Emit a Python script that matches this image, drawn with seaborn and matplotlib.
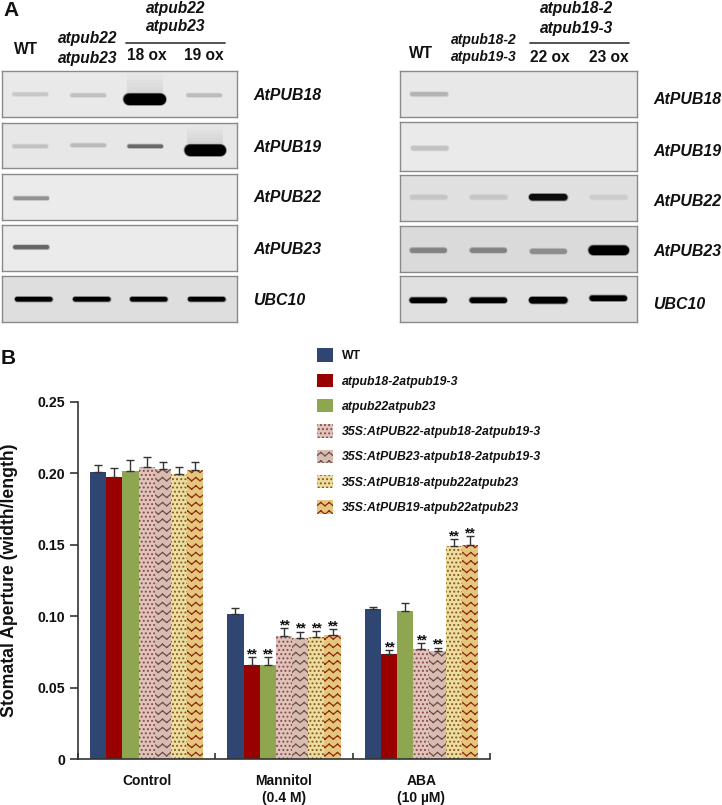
import numpy as np
import pandas as pd
import matplotlib
matplotlib.use("Agg")
import matplotlib.pyplot as plt
import matplotlib.hatch as mhatch
from matplotlib.patches import Patch
from matplotlib.path import Path
import seaborn as sns

# ---------- data ----------
conditions = ["Control", "Mannitol\n(0.4 M)", "ABA\n(10 \u00b5M)"]
genotypes = ["WT", "atpub18-2atpub19-3", "atpub22atpub23",
             "35S:AtPUB22-atpub18-2atpub19-3", "35S:AtPUB23-atpub18-2atpub19-3",
             "35S:AtPUB18-atpub22atpub23", "35S:AtPUB19-atpub22atpub23"]
control_means = [0.201, 0.197, 0.2015, 0.2045, 0.203, 0.1995, 0.202]
mannitol_means = [0.1015, 0.066, 0.066, 0.086, 0.085, 0.0855, 0.087]
aba_means = [0.105, 0.0733, 0.1036, 0.0773, 0.0756, 0.1487, 0.150]
control_err = [0.0045, 0.0065, 0.008, 0.0065, 0.005, 0.0045, 0.006]
mannitol_err = [0.004, 0.0054, 0.0054, 0.0057, 0.004, 0.0039, 0.004]
aba_err = [0.0014, 0.0027, 0.0054, 0.0039, 0.0024, 0.0053, 0.0057]
control_sig = [0, 0, 0, 0, 0, 0, 0]
mannitol_sig = [0, 1, 1, 1, 1, 1, 1]
aba_sig = [0, 1, 0, 1, 1, 1, 1]
y_ticks = [0, 0.05, 0.10, 0.15, 0.20, 0.25]
y_labels = ["0", "0.05", "0.10", "0.15", "0.20", "0.25"]

gene_labels = ["AtPUB18", "AtPUB19", "AtPUB22", "AtPUB23", "UBC10"]
# band darkness per lane (0 = none, 1 = saturated)
left_bands = [[0.13, 0.16, 1.0, 0.17],
              [0.14, 0.17, 0.5, 1.0],
              [0.34, 0, 0, 0],
              [0.52, 0, 0, 0],
              [1.0, 1.0, 1.0, 1.0]]
right_bands = [[0.2, 0, 0, 0],
               [0.15, 0, 0, 0],
               [0.1, 0.1, 0.92, 0.08],
               [0.36, 0.36, 0.32, 1.0],
               [1.0, 1.0, 1.0, 1.0]]
left_background = ["#e9e9e9", "#e7e7e7", "#ebebeb", "#ebebeb", "#dedede"]
right_background = ["#e8e8e8", "#eaeaea", "#e0e0e0", "#dadada", "#e0e0e0"]

# ---------- styling ----------
sns.set_theme(style="ticks")
plt.rcParams["font.family"] = ["Liberation Sans", "DejaVu Sans"]
plt.rcParams["hatch.linewidth"] = 0.9
W, H = 722, 805


class WavyHatch(mhatch.HatchPatternBase):
    """Zig-zag horizontal hatch, selected by '~'."""
    def __init__(self, hatch, density):
        self.num_lines = hatch.count("~") * density
        self.segs = 2 * self.num_lines
        self.num_vertices = self.num_lines * self.segs * 2

    def set_vertices_and_codes(self, vertices, codes):
        n = self.num_lines
        k = 0
        for row in range(n):
            y0 = (row + 0.5) / n
            for i in range(self.segs):
                for j in (i, i + 1):
                    vertices[k, 0] = j / (2 * n)
                    vertices[k, 1] = y0 + (0.2 / n) * (1 if j % 2 else -1)
                    codes[k] = Path.MOVETO if j == i else Path.LINETO
                    k += 1


mhatch._hatch_types.append(WavyHatch)
mhatch._validate_hatch_pattern = lambda hatch: None

fill_colors = ["#2f4672", "#990000", "#8ea64f", "#e0c4bb", "#d9bcb1", "#ecdda0", "#e4c67c"]
hatch_colors = ["#2f4672", "#990000", "#8ea64f", "#8a4a4a", "#6e5048", "#8a5a20", "#8f2a10"]
hatches = [None, None, None, "....", "~~", "....", "~~"]


def add_axes_px(x0, y0, x1, y1, **kw):
    return fig.add_axes([x0 / W, 1 - y1 / H, (x1 - x0) / W, (y1 - y0) / H], **kw)


def text_px(x, y, s, **kw):
    kw.setdefault("ha", "center")
    kw.setdefault("va", "center")
    kw.setdefault("fontweight", "bold")
    kw.setdefault("color", "#111111")
    fig.text(x / W, 1 - y / H, s, **kw)


fig = plt.figure(figsize=(W / 100, H / 100), dpi=100, facecolor="white")


# ---------- panel A ----------
def band(ax, x, y, width, thick, dark, bg):
    if dark <= 0:
        return
    bg_level = int(bg[1:3], 16) / 255
    level = bg_level * (1 - dark) ** 1.15
    col = str(max(level, 0.0))
    halfw = width / 2 - thick / 2
    for grow, alpha in [(2.6, 0.18), (1.6, 0.35), (0.7, 0.6), (0.0, 1.0)]:
        ax.plot([x - halfw, x + halfw], [y, y], color=col, alpha=alpha,
                lw=(thick + grow) * 0.72, solid_capstyle="round", zorder=3)


def gel(x0, y0, x1, y1, bands, bg, xs, ys, widths, thicks, smear=None):
    ax = add_axes_px(x0, y0, x1, y1)
    ax.set_facecolor(bg)
    ax.set_xlim(x0, x1)
    ax.set_ylim(y1, y0)
    ax.set_xticks([])
    ax.set_yticks([])
    for s in ax.spines.values():
        s.set_color("#8a8a8a")
        s.set_linewidth(1.0)
    if smear is not None:
        for top in np.linspace(smear[1], smear[2] - 2, 6):
            ax.fill_between([smear[0] - 18, smear[0] + 18], top, smear[2],
                            color="#b0b0b0", alpha=0.05, lw=0, zorder=1)
    for x, y, w, t, d in zip(xs, ys, widths, thicks, bands):
        band(ax, x, y, w, t, d, bg)
    return ax


lx = [30, 88, 145, 204]
gel(2, 71, 237, 117, left_bands[0], left_background[0], lx, [94, 95, 99, 95],
    [35, 35, 42, 35], [3, 3, 11, 3], smear=(145, 73, 92))
gel(2, 123, 237, 168, left_bands[1], left_background[1], lx[:3] + [205], [146.5, 145.5, 146, 150],
    [35, 35, 35, 41], [3, 3, 3, 11], smear=(205, 127, 143))
gel(2, 174, 237, 220, left_bands[2], left_background[2], [31, 88, 145, 204], [197.5] * 4,
    [35] * 4, [3] * 4)
gel(2, 225, 237, 271, left_bands[3], left_background[3], [31, 88, 145, 204], [247.5] * 4,
    [36] * 4, [3.5] * 4)
gel(2, 276, 237, 322, left_bands[4], left_background[4], [34, 92, 149, 207], [299.5] * 4,
    [37] * 4, [4] * 4)
rx = [429, 489, 549, 609]
gel(400, 71, 637, 117, right_bands[0], right_background[0], rx, [94] * 4, [37] * 4, [3.5] * 4)
gel(400, 122, 637, 171, right_bands[1], right_background[1], rx, [148] * 4, [37] * 4, [4] * 4)
gel(400, 175, 637, 221, right_bands[2], right_background[2], [428, 488, 548, 608], [197] * 4,
    [37, 37, 38, 37], [4, 4, 6, 4])
gel(400, 226, 637, 272, right_bands[3], right_background[3], [428, 488, 548, 608], [250, 250, 251, 250],
    [37, 37, 37, 40], [4.5, 4.5, 4.5, 9])
gel(400, 276, 637, 322, right_bands[4], right_background[4], [428, 488, 548, 608], [300, 300, 300, 298],
    [37, 37, 38, 37], [5, 5, 6, 5])

for gene, y in zip(gene_labels, [96, 147, 198, 249, 300]):
    text_px(253, y, gene, ha="left", fontstyle="italic", fontsize=11.4)
for gene, y in zip(gene_labels, [100, 151, 201, 252, 304]):
    text_px(653, y, gene, ha="left", fontstyle="italic", fontsize=11.4)

text_px(3, 10, "A", ha="left", fontsize=15)
text_px(1, 358, "B", ha="left", fontsize=15)

text_px(26, 50, "WT", fontsize=11.2)
text_px(88, 39, "atpub22", fontstyle="italic", fontsize=11.2)
text_px(88, 58, "atpub23", fontstyle="italic", fontsize=11.2)
text_px(176, 8, "atpub22", fontstyle="italic", fontsize=11.2)
text_px(176, 27, "atpub23", fontstyle="italic", fontsize=11.2)
text_px(147, 56, "18 ox", fontsize=11.2)
text_px(204, 56, "19 ox", fontsize=11.2)

text_px(421, 53, "WT", fontsize=11.2)
text_px(484, 40, "atpub18-2", fontstyle="italic", fontsize=10)
text_px(484, 57, "atpub19-3", fontstyle="italic", fontsize=10)
text_px(577, 9, "atpub18-2", fontstyle="italic", fontsize=11.2)
text_px(577, 28, "atpub19-3", fontstyle="italic", fontsize=11.2)
text_px(550, 57, "22 ox", fontsize=11.2)
text_px(609, 57, "23 ox", fontsize=11.2)

for xa, xb in [(126, 225), (530, 629)]:
    fig.add_artist(plt.Line2D([xa / W, xb / W], [1 - 43 / H] * 2, color="#444444", lw=1.3))

# ---------- panel B ----------
df = pd.DataFrame({
    "condition": np.repeat(conditions, len(genotypes)),
    "genotype": genotypes * len(conditions),
    "value": control_means + mannitol_means + aba_means,
})
all_err = [control_err, mannitol_err, aba_err]
all_sig = [control_sig, mannitol_sig, aba_sig]

ax = add_axes_px(78, 401.7, 490, 759)
sns.barplot(data=df, x="condition", y="value", hue="genotype", order=conditions,
            hue_order=genotypes, palette=fill_colors, width=0.825, gap=0,
            errorbar=None, saturation=1, legend=False, ax=ax, linewidth=0)
ax.set_xlim(-0.5, 2.5)
ax.set_ylim(0, 0.25)

for g, container in enumerate(list(ax.containers)):
    for c, bar in enumerate(container):
        bar.set_linewidth(0)
        bar.set_edgecolor(hatch_colors[g])
        if hatches[g]:
            bar.set_hatch(hatches[g])
        xc = bar.get_x() + bar.get_width() / 2
        top = bar.get_height()
        err = all_err[c][g]
        ax.errorbar(xc, top, yerr=[[0], [err]], color="#333333", capsize=3.2,
                    elinewidth=1.0, capthick=1.0, zorder=4)
        if all_sig[c][g]:
            ax.annotate("**", (xc, top + err), xytext=(0, -3), textcoords="offset points",
                        ha="center", va="bottom", fontsize=10, fontweight="bold", color="#111111")

sns.despine(ax=ax)
for side in ("left", "bottom"):
    ax.spines[side].set_color("#333333")
    ax.spines[side].set_linewidth(1.2)
ax.set_yticks(y_ticks)
ax.set_yticklabels(y_labels, fontsize=10.2, fontweight="bold", color="#111111")
ax.tick_params(axis="y", direction="out", length=6, width=1.2, color="#333333", pad=3)
ax.set_xticks(range(len(conditions)))
ax.set_xticklabels(conditions, fontsize=10, fontweight="bold", color="#111111", linespacing=1.25)
ax.tick_params(axis="x", which="major", length=0, pad=11)
ax.set_xticks([-0.5, 0.5, 1.5, 2.5], minor=True)
ax.tick_params(axis="x", which="minor", direction="in", length=4.5, width=1.2, color="#333333")
ax.set_xlabel("")
ax.set_ylabel("")
text_px(10, 580, "Stomatal Aperture (width/length)", rotation=90, fontsize=12.7)

handles = [Patch(facecolor=f, edgecolor=h, hatch=p, linewidth=0)
           for f, h, p in zip(fill_colors, hatch_colors, hatches)]
fs = 8.8
leg = fig.legend(handles, genotypes, loc="upper left", bbox_to_anchor=(317 / W, 1 - 348.5 / H),
                 frameon=False, prop={"size": fs, "weight": "bold", "style": "italic"},
                 handlelength=1.31, handleheight=1.31, labelspacing=0.94,
                 handletextpad=0.72, borderpad=0, borderaxespad=0)
leg.get_texts()[0].set_fontstyle("normal")
for t in leg.get_texts():
    t.set_color("#111111")

fig.savefig("out.png", dpi=100)
